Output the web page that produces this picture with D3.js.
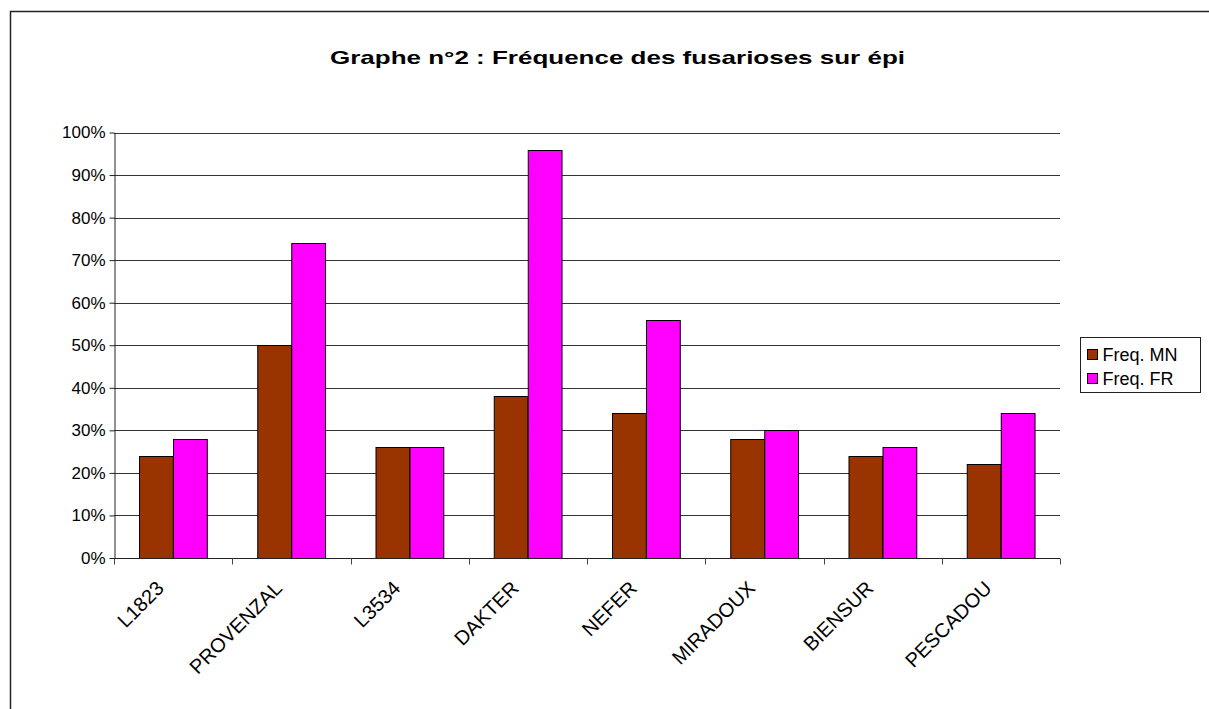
<!DOCTYPE html>
<html>
<head>
<meta charset="utf-8">
<script src="https://cdn.jsdelivr.net/npm/d3@7"></script>
<style>
  body { margin: 0; background: #fff; }
  svg { display: block; font-family: Arial, "Liberation Sans", sans-serif; }
</style>
</head>
<body>
<div id="chart"></div>
<script>
const width = 1209, height = 709
const margin = { top: 132.5, left: 114, right: 149, bottom: 151 }

const varieties = ["L1823", "PROVENZAL", "L3534", "DAKTER", "NEFER", "MIRADOUX", "BIENSUR", "PESCADOU"]
const seriesNames = ["Freq. MN", "Freq. FR"]
const freqMN = [0.24, 0.50, 0.26, 0.38, 0.34, 0.28, 0.24, 0.22]
const freqFR = [0.28, 0.74, 0.26, 0.96, 0.56, 0.30, 0.26, 0.34]
const yTicks = [0, 0.1, 0.2, 0.3, 0.4, 0.5, 0.6, 0.7, 0.8, 0.9, 1]
const colors = ["#993300", "#FF00FF"]

const rows = varieties.map((v, i) => ({ name: v, values: [freqMN[i], freqFR[i]] }))

const svg = d3.select("#chart").append("svg")
    .attr("width", width)
    .attr("height", height)

// outer frame of the chart area
svg.append("rect")
    .attr("x", 10.5).attr("y", 11.5)
    .attr("width", 1300).attr("height", 800)
    .attr("fill", "none").attr("stroke", "#222").attr("stroke-width", 1.5)

// title is drawn wide, like the Excel export
svg.append("text")
    .attr("x", 330).attr("y", 64)
    .attr("font-size", 18.5).attr("font-weight", "bold")
    .attr("textLength", 575).attr("lengthAdjust", "spacingAndGlyphs")
    .text("Graphe n°2 : Fréquence des fusarioses sur épi")

const x0 = d3.scaleBand()
    .domain(varieties)
    .range([margin.left, width - margin.right])
    .paddingInner(0)

const y = d3.scaleLinear()
    .domain([0, 1])
    .range([height - margin.bottom, margin.top])

// bar width: Excel gap width 150%
const bw = x0.bandwidth() / 3.5
const x1 = d3.scaleBand()
    .domain([0, 1])
    .range([0.75 * bw, 2.75 * bw])

// gridlines
svg.append("g")
    .selectAll("line")
    .data(yTicks.slice(1))
    .join("line")
    .attr("x1", margin.left).attr("x2", width - margin.right)
    .attr("y1", d => Math.round(y(d)) + 0.5).attr("y2", d => Math.round(y(d)) + 0.5)
    .attr("stroke", "#333").attr("stroke-width", 1)

// y axis
const yAxis = svg.append("g")
    .attr("transform", `translate(${margin.left + 0.5},0)`)
    .call(d3.axisLeft(y).tickValues(yTicks).tickFormat(d3.format(".0%")).tickSize(5).tickSizeOuter(0))
yAxis.select(".domain").attr("stroke", "#222")
yAxis.selectAll(".tick line").attr("stroke", "#222")
yAxis.selectAll(".tick text")
    .attr("font-size", 17).attr("font-family", "Arial, 'Liberation Sans', sans-serif")
    .attr("fill", "#000").attr("x", -9)

// bars
svg.append("g")
    .selectAll("g")
    .data(rows)
    .join("g")
    .attr("transform", d => `translate(${x0(d.name)},0)`)
    .selectAll("rect")
    .data(d => d.values.map((v, k) => ({ k, v })))
    .join("rect")
    .attr("x", d => Math.round(x1(d.k)) + 0.5)
    .attr("width", x1.bandwidth())
    .attr("y", d => Math.round(y(d.v)) + 0.5)
    .attr("height", d => y(0) - Math.round(y(d.v)))
    .attr("fill", d => colors[d.k])
    .attr("stroke", "#000").attr("stroke-width", 1)

// x axis with ticks on category boundaries
const xAxisG = svg.append("g")
    .attr("transform", `translate(0,${Math.round(y(0)) + 0.5})`)
xAxisG.append("line")
    .attr("x1", margin.left).attr("x2", width - margin.right)
    .attr("stroke", "#222")
xAxisG.selectAll("line.tick")
    .data(varieties.concat(["end"]))
    .join("line")
    .attr("class", "tick")
    .attr("x1", (d, i) => Math.round(margin.left + i * x0.step()) + 0.5)
    .attr("x2", (d, i) => Math.round(margin.left + i * x0.step()) + 0.5)
    .attr("y1", 0).attr("y2", 6)
    .attr("stroke", "#444")

xAxisG.selectAll("text")
    .data(varieties)
    .join("text")
    .attr("transform", d => `translate(${x0(d) + x0.bandwidth() / 2 - 8},31) rotate(-45)`)
    .attr("text-anchor", "end")
    .attr("font-size", 20)
    .text(d => d)

// legend
const legend = svg.append("g").attr("transform", "translate(1080.5,337.5)")
legend.append("rect")
    .attr("width", 120).attr("height", 55)
    .attr("fill", "#fff").attr("stroke", "#222")
seriesNames.forEach((name, i) => {
    legend.append("rect")
        .attr("x", 7).attr("y", 12 + i * 24)
        .attr("width", 10).attr("height", 10)
        .attr("fill", colors[i]).attr("stroke", "#000")
    legend.append("text")
        .attr("x", 22).attr("y", 23.5 + i * 24)
        .attr("font-size", 18)
        .text(name)
})
</script>
</body>
</html>
